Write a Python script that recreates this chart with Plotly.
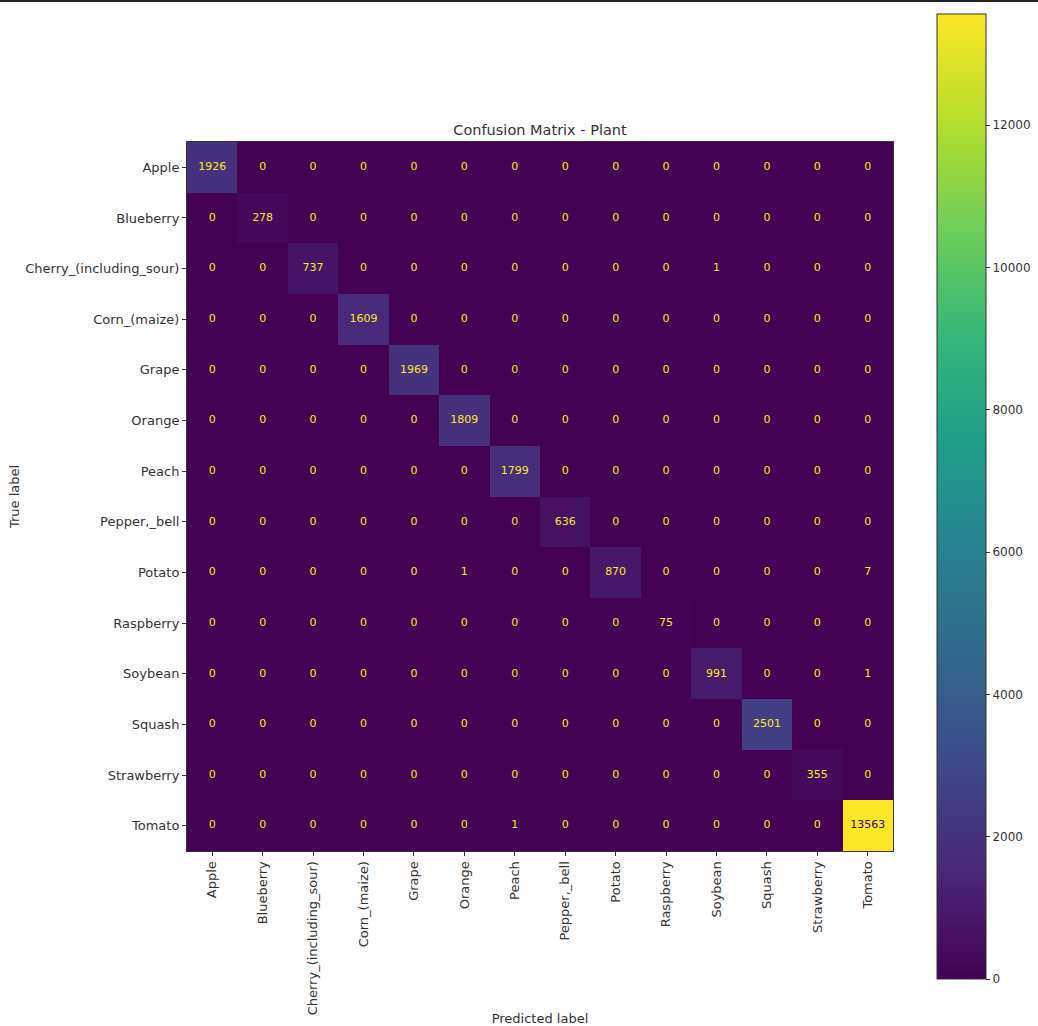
import plotly.graph_objects as go

labels = ["Apple", "Blueberry", "Cherry_(including_sour)", "Corn_(maize)", "Grape",
          "Orange", "Peach", "Pepper,_bell", "Potato", "Raspberry", "Soybean",
          "Squash", "Strawberry", "Tomato"]

diagonal = [1926, 278, 737, 1609, 1969, 1809, 1799, 636, 870, 75, 991, 2501, 355, 13563]
# off-diagonal errors: (true label, predicted label, count)
errors = [
    ("Cherry_(including_sour)", "Soybean", 1),
    ("Potato", "Orange", 1),
    ("Potato", "Tomato", 7),
    ("Soybean", "Tomato", 1),
    ("Tomato", "Peach", 1),
]
colorbar_ticks = [0, 2000, 4000, 6000, 8000, 10000, 12000]

n = len(labels)
z = [[0] * n for _ in range(n)]
for i in range(n):
    z[i][i] = diagonal[i]
for t, p, c in errors:
    z[labels.index(t)][labels.index(p)] = c

zmax = max(max(r) for r in z)
thresh = zmax / 2.0

W, H = 1038, 1026
L, R, T, B = 187, 145, 142, 175
PW, PH = W - L - R, H - T - B
FONT = "DejaVu Sans"
TXT = "#333"

fig = go.Figure()
fig.add_trace(go.Heatmap(
    z=z, x=labels, y=labels, colorscale="Viridis", zmin=0, zmax=zmax,
    hoverinfo="skip",
    colorbar=dict(
        x=(937 - L) / PW, xanchor="left", xpad=0, ypad=0,
        y=(H - B - 979) / PH, yanchor="bottom",
        lenmode="pixels", len=965, thickness=49, thicknessmode="pixels",
        tickvals=colorbar_ticks, tickformat="d", ticks="outside", ticklen=4, tickcolor=TXT,
        tickfont=dict(family=FONT, size=12, color=TXT),
        outlinewidth=1, outlinecolor=TXT,
    ),
))

xs, ys, txt, cols = [], [], [], []
for i in range(n):
    for j in range(n):
        xs.append(labels[j])
        ys.append(labels[i])
        txt.append(str(z[i][j]))
        cols.append("#440154" if z[i][j] > thresh else "#fde725")
fig.add_trace(go.Scatter(
    x=xs, y=ys, text=txt, mode="text", hoverinfo="skip", showlegend=False,
    textfont=dict(family=FONT, size=11, color=cols),
))

axis_common = dict(
    showgrid=False, zeroline=False, ticks="outside", ticklen=4, tickcolor=TXT,
    showline=True, mirror=True, linecolor=TXT, linewidth=1,
    tickfont=dict(family=FONT, size=13, color=TXT),
)
fig.update_xaxes(**axis_common, tickangle=-90, range=[-0.5, n - 0.5],
                 title=dict(text="Predicted label", standoff=2,
                            font=dict(family=FONT, size=13, color=TXT)))
fig.update_yaxes(**axis_common, range=[n - 0.5, -0.5],
                 title=dict(text="True label", standoff=2,
                            font=dict(family=FONT, size=13, color=TXT)))

fig.update_layout(
    width=W, height=H,
    margin=dict(l=L, r=R, t=T, b=B, autoexpand=False),
    plot_bgcolor="white", paper_bgcolor="white",
    title=dict(text="Confusion Matrix - Plant", x=(L + PW / 2) / W, xanchor="center",
               y=1 - 130 / H, yanchor="middle",
               font=dict(family=FONT, size=14.5, color=TXT)),
    shapes=[dict(type="line", xref="paper", yref="paper",
                 x0=-L / PW, x1=(W - L) / PW,
                 y0=1 + (T - 1) / PH, y1=1 + (T - 1) / PH,
                 line=dict(color="#222", width=2))],
)

fig.write_html("out.html", config={"displayModeBar": False},
               post_script="document.body.style.margin='0';")
